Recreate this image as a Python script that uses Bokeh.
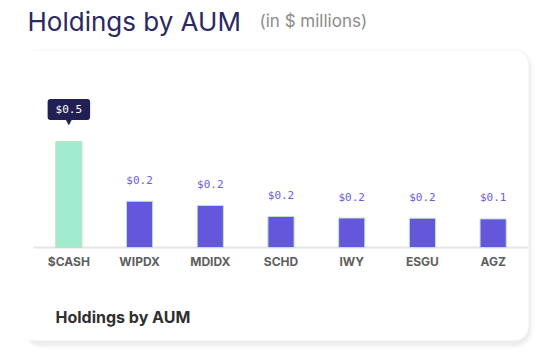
from bokeh.plotting import figure
from bokeh.models import BoxAnnotation, Range1d, FactorRange, ColumnDataSource
from bokeh.core.properties import value
from bokeh.embed import file_html
from bokeh.resources import INLINE

# ---- data ----
tickers = ["$CASH", "WIPDX", "MDIDX", "SCHD", "IWY", "ESGU", "AGZ"]
aum_millions = [0.50, 0.228, 0.209, 0.159, 0.152, 0.151, 0.148]
bar_colors = ["#a1ecd1", "#6457dc", "#6457dc", "#6457dc", "#6457dc", "#6457dc", "#6457dc"]
value_labels = ["${:.1f}".format(v) for v in aum_millions]
title_text = "Holdings by AUM"
subtitle_text = "(in $ millions)"
footer_text = "Holdings by AUM"

# ---- view settings ----
W, H = 538, 358
FRAME_LEFT = 23
CAT_LEFT, CAT_RIGHT = 33, 528          # pixel span of the category band
n = len(tickers)
cat_px = (CAT_RIGHT - CAT_LEFT) / n      # pixels per category
pad_pct = 2 * ((CAT_LEFT - FRAME_LEFT) / cat_px) / n

def cx(px):
    """canvas pixel -> synthetic category coordinate (for layout items only)"""
    return (px - CAT_LEFT) / cat_px

y_floor = 0.018              # value axis starts here (baseline)
px_per_unit = 220.0
baseline_from_bottom = 111.0
val_start = y_floor - baseline_from_bottom / px_per_unit
val_end = val_start + H / px_per_unit

p = figure(width=W, height=H, x_range=FactorRange(*tickers, range_padding=pad_pct),
           y_range=Range1d(358, 0),
           x_axis_type=None, y_axis_type=None,
           output_backend="svg", toolbar_location=None,
           min_border_left=FRAME_LEFT, min_border_right=0, min_border_top=0, min_border_bottom=0)
p.extra_y_ranges = {"val": Range1d(val_start, val_end)}
p.background_fill_color = "white"
p.border_fill_color = "white"
p.outline_line_color = None
p.xgrid.visible = False
p.ygrid.visible = False

# card with soft shadow (shadow only shows below / right of the card)
for i, a in enumerate([0.016, 0.014, 0.012, 0.010, 0.008, 0.006]):
    d = i + 1
    p.add_layout(BoxAnnotation(left=cx(24), right=cx(528 + d), top=50 - d + 3,
                               bottom=340 + d + 3,
                               fill_color="black", fill_alpha=a, line_color=None,
                               border_radius=14 + d, level="underlay"))
p.add_layout(BoxAnnotation(left=cx(11), right=cx(528), top=50, bottom=340,
                           fill_color="white", fill_alpha=1, line_color="#f4f4f4",
                           border_radius=14, level="underlay"))

# baseline (category axis line)
p.segment(x0=[0], x1=[n], y0=[y_floor], y1=[y_floor],
          y_range_name="val", line_color="#e6e6e6", line_width=2)

src = ColumnDataSource(dict(x=tickers, top=aum_millions, color=bar_colors, label=value_labels))
p.vbar(x="x", top="top", bottom=y_floor, width=0.37, fill_color="color", line_color="#bfe3c9",
       line_width=1, source=src, y_range_name="val")

# category labels
cat_src = ColumnDataSource(dict(x=tickers, y=[y_floor] * n))
p.text(x="x", y="y", text="x", source=cat_src, y_range_name="val",
       text_align="center", text_baseline="middle", y_offset=14, text_color="#5e5e5e",
       text_font=value("Inter"), text_font_style="bold", text_font_size="12px")

# value labels (all but the highlighted one)
lab_src = ColumnDataSource(dict(x=tickers[1:], y=aum_millions[1:], t=value_labels[1:]))
p.text(x="x", y="y", text="t", source=lab_src, y_range_name="val",
       text_align="center", text_baseline="middle",
       y_offset=-21, text_color="#6a5ce4", text_font=value("DejaVu Sans Mono"),
       text_font_size="11px")

# tooltip on highlighted bar
tip_src = ColumnDataSource(dict(x=tickers[:1], y=aum_millions[:1], t=value_labels[:1],
                                arrow=["▼"]))
p.text(x="x", y="y", text="arrow", source=tip_src, y_range_name="val",
       text_align="center", text_baseline="middle",
       y_offset=-22, text_color="#221f55", text_font=value("DejaVu Sans"), text_font_size="13px")
p.text(x="x", y="y", text="t", source=tip_src, y_range_name="val",
       text_align="center", text_baseline="middle",
       y_offset=-32, text_color="white", text_font=value("DejaVu Sans Mono"),
       text_font_size="11px", background_fill_color="#221f55", padding=(8, 4), border_radius=3)

# titles
p.text(x=[cx(27)], y=[21], text=[title_text], text_font=value("Inter"), text_font_size="26px",
       text_color="#2b2963", text_baseline="alphabetic")
p.text(x=[cx(259)], y=[20.5], text=[subtitle_text], text_font=value("Inter"),
       text_font_size="17px", text_color="#8c8c8c", text_baseline="alphabetic")
p.text(x=[cx(55)], y=[316], text=[footer_text], text_font=value("Inter"),
       text_font_style="bold", text_font_size="16px", text_color="#2f2f2f",
       text_baseline="alphabetic")

open("out.html", "w").write(file_html(p, INLINE))
